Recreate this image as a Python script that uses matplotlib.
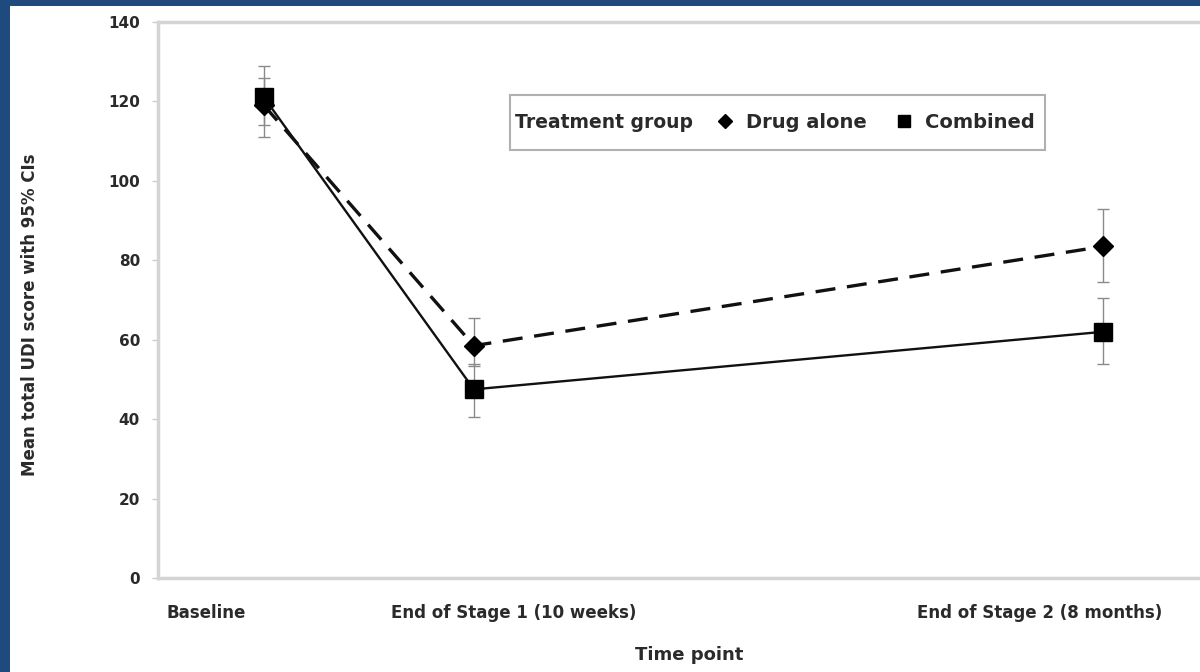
import matplotlib
matplotlib.use("Agg")
import matplotlib.pyplot as plt
from matplotlib.lines import Line2D
from matplotlib.patches import Rectangle

# Time points (weeks from baseline)
weeks = [0, 10, 40]
tick_labels = ['Baseline', 'End of Stage 1 (10 weeks)', 'End of Stage 2 (8 months)']

# Drug alone
drug_mean = [119, 58.5, 83.5]
drug_low = [111, 53.5, 74.5]
drug_high = [126, 65.5, 93]

# Combined
comb_mean = [121, 47.5, 62]
comb_low = [114, 40.5, 54]
comb_high = [129, 54, 70.5]

plt.rcParams['font.family'] = ['DejaVu Sans']
plt.rcParams['font.weight'] = 'bold'
txt = '#2a2a2a'

fig = plt.figure(figsize=(12, 6.72), dpi=100)
fig.patch.set_facecolor('#1f4a7e')
fig.patches.append(Rectangle((10 / 1200, 0), 1, 1 - 6 / 672, transform=fig.transFigure,
                             facecolor='white', edgecolor='none', zorder=-5))

ax = fig.add_axes([158 / 1200, 1 - 578 / 672, 1 - 158 / 1200, (578 - 22) / 672])
ax.set_facecolor('white')

grey = '#8a8a8a'
ax.errorbar(weeks, drug_mean,
            yerr=[[m - l for m, l in zip(drug_mean, drug_low)], [h - m for m, h in zip(drug_mean, drug_high)]],
            fmt='none', ecolor=grey, elinewidth=1, capsize=4, capthick=1, zorder=2)
ax.errorbar(weeks, comb_mean,
            yerr=[[m - l for m, l in zip(comb_mean, comb_low)], [h - m for m, h in zip(comb_mean, comb_high)]],
            fmt='none', ecolor=grey, elinewidth=1, capsize=4, capthick=1, zorder=2)

ax.plot(weeks, drug_mean, color='#111111', lw=2.4, ls=(0, (6, 3.5)), marker='D', ms=10,
        markerfacecolor='black', markeredgecolor='black', zorder=3)
ax.plot(weeks, comb_mean, color='#111111', lw=1.7, ls='-', marker='s', ms=13,
        markerfacecolor='black', markeredgecolor='black', zorder=3)

ax.set_xlim(-5.05, 44.6)
ax.set_ylim(0, 140)
ax.set_yticks(range(0, 141, 20))
ax.set_xticks([])

# x category labels sit a bit off their points in the original
shifts = [-58, 40, -64]
for w, lab, dx in zip(weeks, tick_labels, shifts):
    ax.annotate(lab, xy=(w, 0), xycoords=('data', 'axes fraction'),
                xytext=(dx, -35), textcoords='offset pixels',
                ha='center', va='center', fontsize=12, color=txt)

ax.tick_params(axis='y', length=4, width=1, color='#cccccc', pad=9, labelsize=11, labelcolor=txt)

for side in ['left', 'bottom', 'top']:
    ax.spines[side].set_color('#d4d4d4')
    ax.spines[side].set_linewidth(2.5)
ax.spines['right'].set_visible(False)

ax.text(0.51, -77 / 556, 'Time point', transform=ax.transAxes, ha='center', va='center',
        fontsize=13, color=txt)
ax.text(-128 / 1042, 0.473, 'Mean total UDI score with 95% CIs', transform=ax.transAxes,
        rotation=90, ha='center', va='center', fontsize=12, color=txt)

# legend box with inline title
ax.add_patch(Rectangle((352 / 1042, 1 - 128 / 556), 535 / 1042, 55 / 556, transform=ax.transAxes,
                       facecolor='white', edgecolor='#b0b0b0', lw=1.5, zorder=4))
ax.text(357 / 1042, 1 - 100 / 556, 'Treatment group', transform=ax.transAxes,
        ha='left', va='center', fontsize=13.5, color=txt, zorder=5)
handles = [Line2D([], [], ls='none', marker='D', ms=7, color='black'),
           Line2D([], [], ls='none', marker='s', ms=9, color='black')]
leg = ax.legend(handles, ['Drug alone', 'Combined'], ncol=2, loc='center left',
                bbox_to_anchor=(557 / 1042, 1 - 100 / 556), frameon=False, fontsize=14,
                handlelength=1.0, handletextpad=0.6, columnspacing=1.4, borderpad=0, borderaxespad=0)
leg.set_zorder(6)
for t in leg.get_texts():
    t.set_color(txt)

fig.savefig('out.png', dpi=100, facecolor=fig.get_facecolor())
